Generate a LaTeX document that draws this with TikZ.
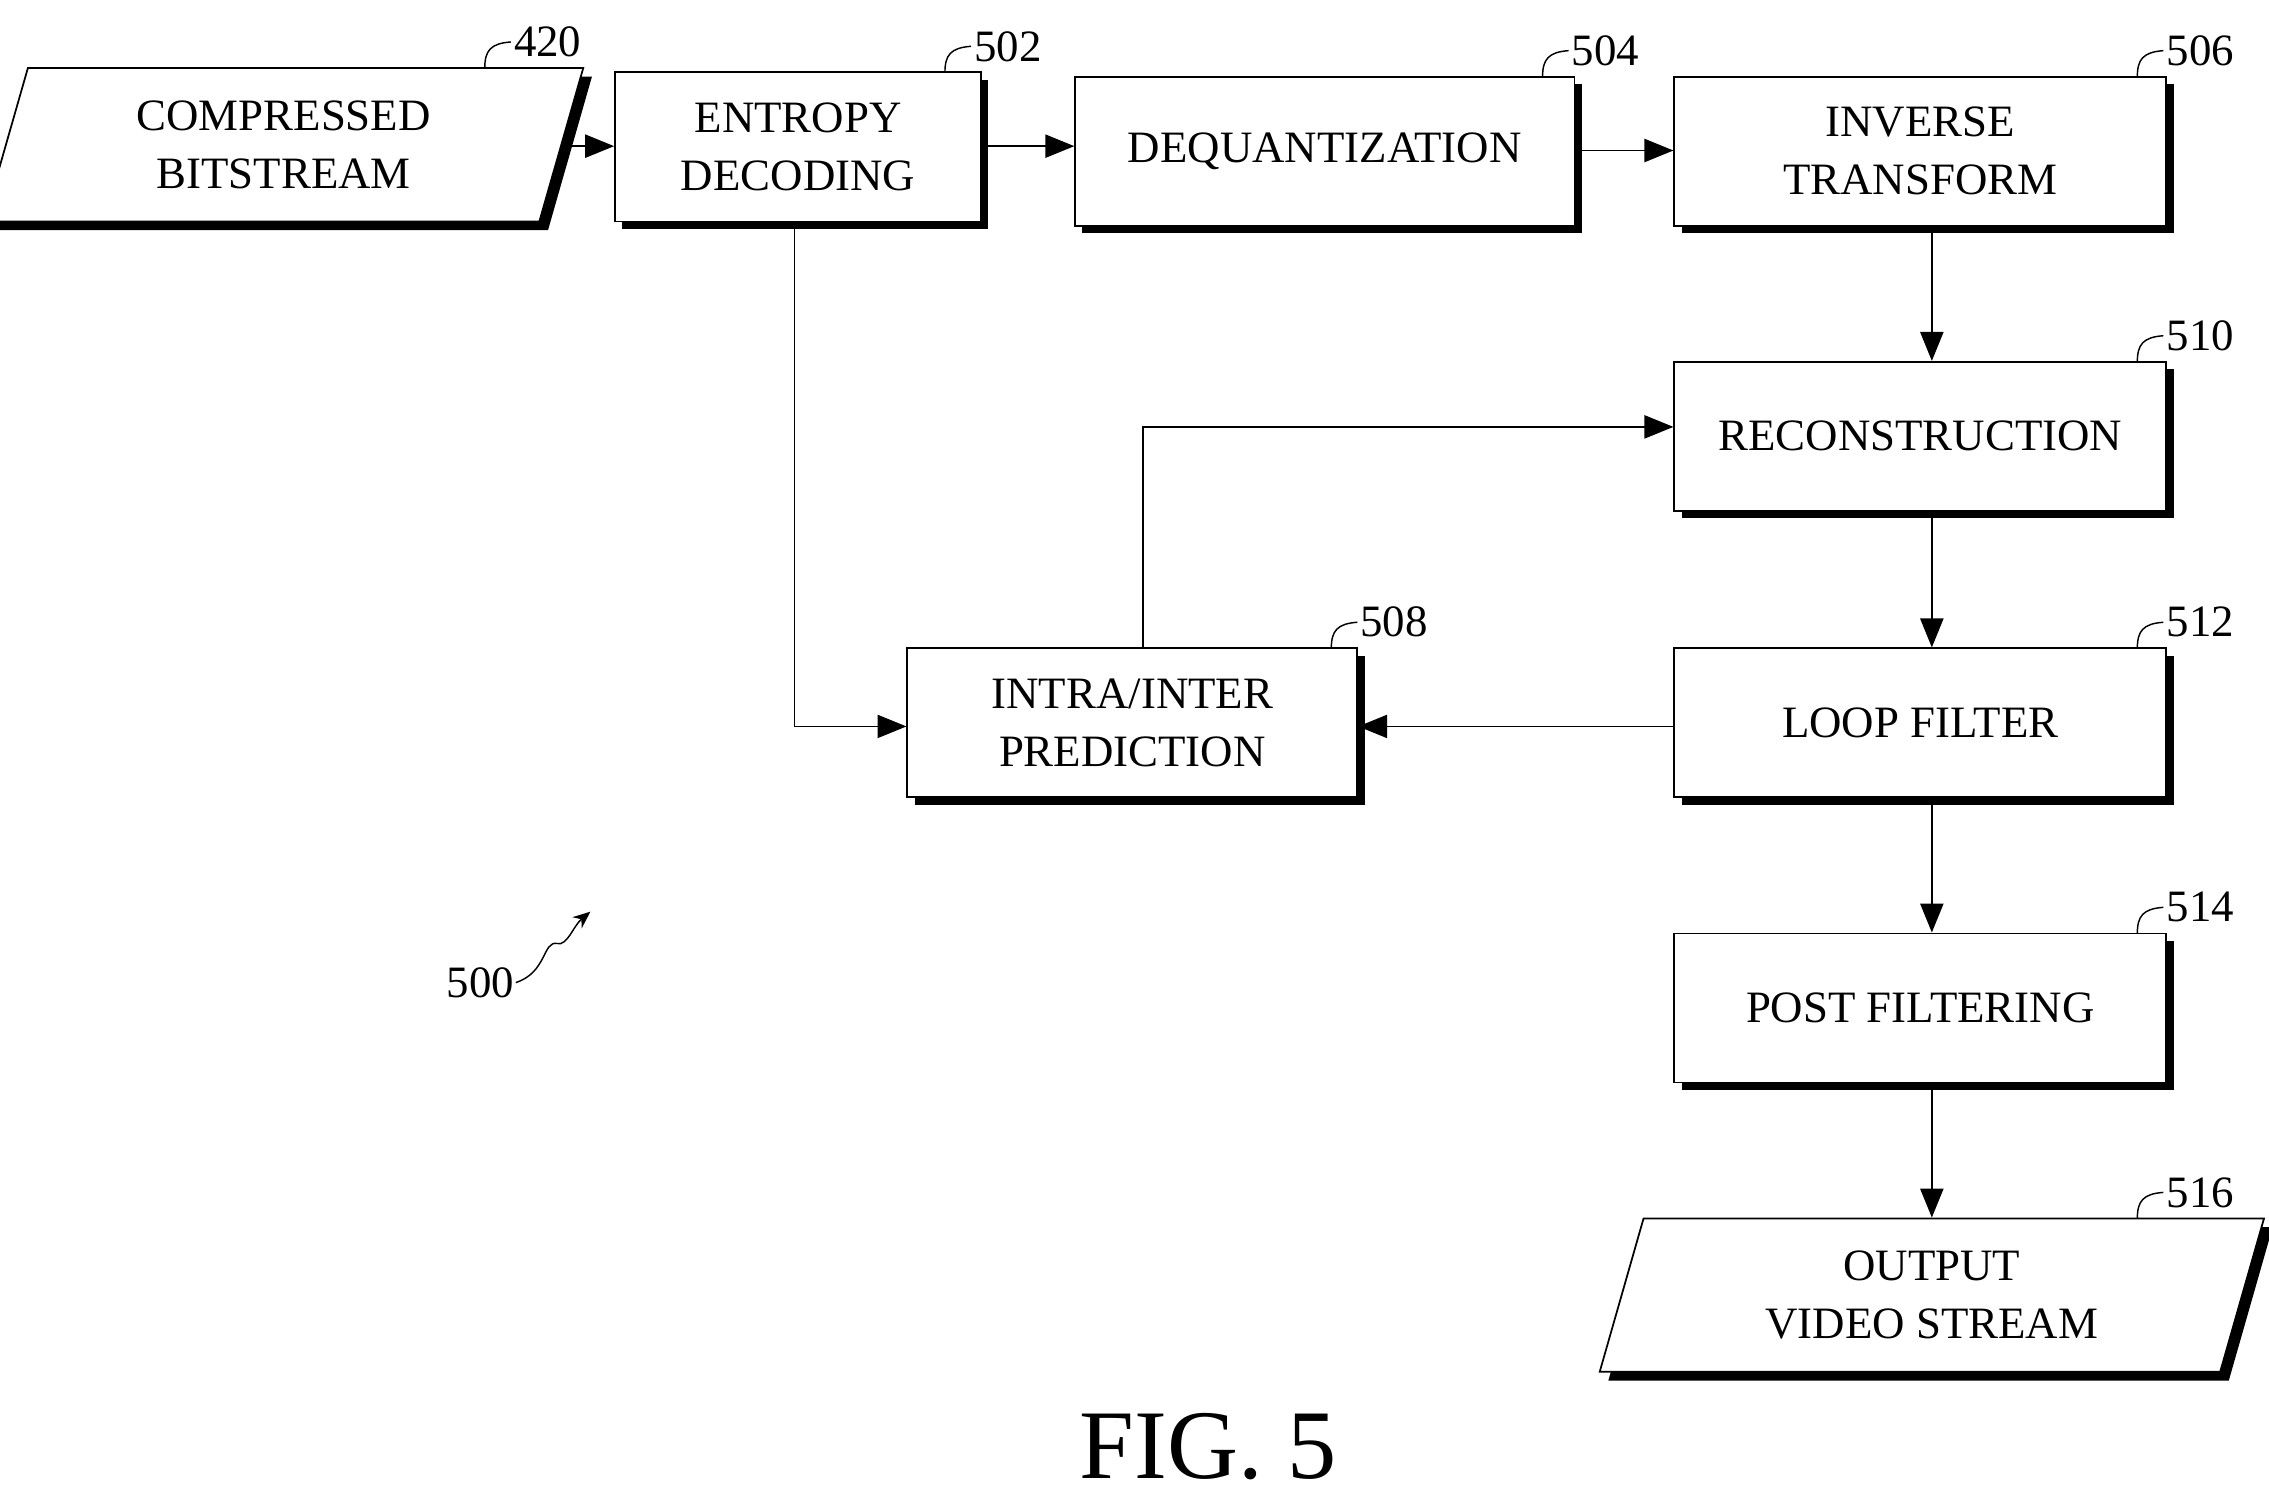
\documentclass[tikz,border=0pt]{standalone}
\usepackage{fontspec}
\setmainfont{Liberation Serif}
\usetikzlibrary{shadows,shapes.geometric,arrows.meta}
\begin{document}
\begin{tikzpicture}[x=1pt,y=-1pt,
  box/.style={draw,line width=1.2pt,fill=white,minimum width=#1,minimum height=103pt,align=center,inner sep=0pt,
    font=\fontsize{31}{40}\selectfont,drop shadow={fill=black,opacity=1,shadow xshift=5pt,shadow yshift=-5pt}},
  box/.default=340pt,
  par/.style={draw,line width=1.2pt,fill=white,trapezium,trapezium left angle=74,trapezium right angle=106,
    minimum width=330pt,minimum height=106pt,align=center,inner sep=0pt,font=\fontsize{31}{40}\selectfont,
    drop shadow={fill=black,opacity=1,shadow xshift=6pt,shadow yshift=-6pt}},
  arr/.style={line width=1.2pt,-{Triangle[length=20pt,width=16pt]}},
  lbl/.style={font=\fontsize{31}{36}\selectfont,anchor=west,inner sep=2pt}]
\useasboundingbox (0,0) rectangle (1568,1037);
\node[par] (cb) at (196,100) {COMPRESSED\\BITSTREAM};
\node[box=253pt] (ed) at (551.5,101.5) {ENTROPY\\DECODING};
\node[box=345pt] (dq) at (915.5,104.5) {DEQUANTIZATION};
\node[box] (it) at (1327,104.5) {INVERSE\\TRANSFORM};
\node[box] (rc) at (1327,301.5) {RECONSTRUCTION};
\node[box] (lf) at (1327,499.5) {LOOP FILTER};
\node[box] (pf) at (1327,696.5) {POST FILTERING};
\node[box=311pt] (ip) at (782.5,499.5) {INTRA/INTER\\PREDICTION};
\node[par] (ov) at (1335,895) {OUTPUT\\VIDEO STREAM};
\draw[arr] (cb.east |- 0,101) -- (ed.west |- 0,101);
\draw[arr] (ed.east |- 0,101) -- (dq.west |- 0,101);
\draw[arr] (dq.east |- 0,104) -- (it.west |- 0,104);
\draw[arr] (it.south -| 1335,0) -- (rc.north -| 1335,0);
\draw[arr] (rc.south -| 1335,0) -- (lf.north -| 1335,0);
\draw[arr] (lf.south -| 1335,0) -- (pf.north -| 1335,0);
\draw[arr] (pf.south -| 1335,0) -- (ov.north -| 1335,0);
\draw[arr] (ed.south -| 549,0) |- (ip.west |- 0,502);
\draw[arr] (lf.west |- 0,502) -- (ip.east |- 0,502);
\draw[arr] (ip.north -| 790,0) |- (rc.west |- 0,295);
\foreach \x/\y/\t/\n in {335/47/420/a,653/50/502/b,1066/53/504/c,1477/53/506/d,1477/250/510/e,920/448/508/f,1477/448/512/g,1477/645/514/h,1477/842/516/i}{
  \draw[line width=1pt] (\x,\y) .. controls (\x,\y-12) and (\x+4,\y-17) .. (\x+18,\y-18) coordinate (h\n);
  \node[lbl] (l\n) at (h\n) {\t};}
\node[font=\fontsize{31}{36}\selectfont,inner sep=1pt] (n500) at (332,679) {500};
\coordinate (t500) at (408,630);
\draw[line width=1pt,-{Stealth[length=12pt,width=10pt]}] (n500.east) .. controls (378,672) and (375,650) .. (385,652) .. controls (392,654) and (396,640) .. (t500);
\node[font=\fontsize{68}{70}\selectfont] (fig) at (835,1000) {FIG. 5};
\end{tikzpicture}
\end{document}
